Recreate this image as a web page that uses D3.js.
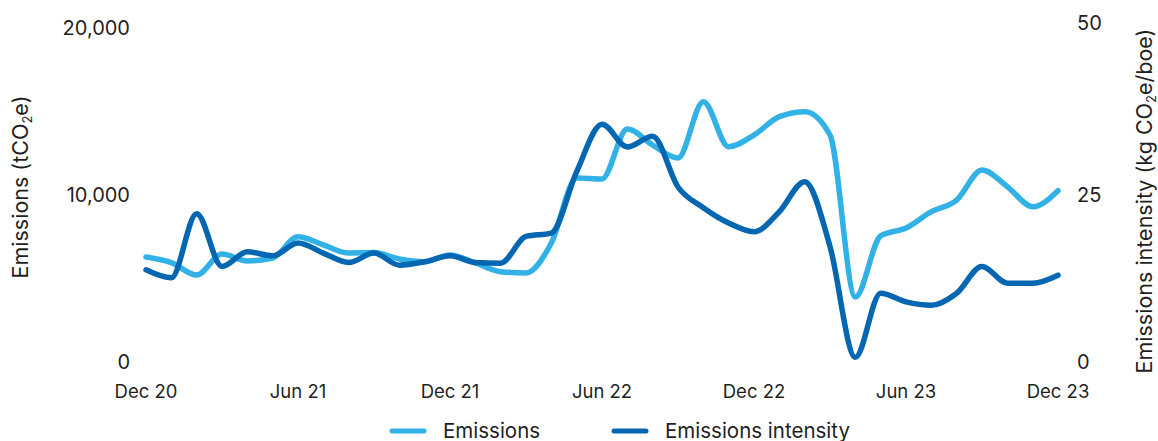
<!DOCTYPE html>
<html>
<head>
<meta charset="utf-8">
<script src="https://cdn.jsdelivr.net/npm/d3@7"></script>
<style>
  body { margin: 0; background: #fff; }
  svg text { font-family: Inter, "Noto Sans", sans-serif; fill: #1f1f1f; }
</style>
</head>
<body>
<div id="chart"></div>
<script>
// monthly data, Dec 20 -> Dec 23
var months = d3.range(37); // month index from Dec 2020
var tickIdx = [0, 6, 12, 18, 24, 30, 36];
var tickLabels = ["Dec 20", "Jun 21", "Dec 21", "Jun 22", "Dec 22", "Jun 23", "Dec 23"];

// tCO2e (left axis)
var emissions = [6290, 5950, 5210, 6470, 6050, 6230, 7500, 7010, 6530, 6550,
  6170, 6010, 6410, 5930, 5410, 5330, 7130, 11020, 10960, 13950,
  12990, 12220, 15590, 12890, 13590, 14690, 14990, 13590, 3890, 7550,
  8020, 9000, 9700, 11500, 10500, 9300, 10260];

// kg CO2e/boe (right axis)
var intensity = [13.8, 12.6, 22.2, 14.3, 16.5, 15.9, 17.8, 16.3, 14.9, 16.3,
  14.5, 15.0, 15.9, 14.9, 14.8, 18.8, 19.3, 28.5, 35.6, 32.2,
  33.8, 26.2, 23.1, 20.8, 19.5, 22.5, 27.0, 17.3, 0.7, 10.3,
  9.0, 8.5, 10.3, 14.3, 11.8, 11.8, 13.0];

var leftTicks = [0, 10000, 20000];
var rightTicks = [0, 25, 50];

var width = 1158, height = 441;
var lightBlue = "#31b1e6", darkBlue = "#0567b2";

var svg = d3.select("#chart").append("svg")
  .attr("width", width)
  .attr("height", height);

var x = d3.scaleLinear().domain([0, 36]).range([146, 1058]);
var yL = d3.scaleLinear().domain([0, 20000]).range([362, 28]);
var yR = d3.scaleLinear().domain([0, 50]).range([362, 28]);

// left axis labels
svg.selectAll(".ltick").data(leftTicks).enter()
  .append("text")
  .attr("x", 130)
  .attr("y", function(d) { return yL(d); })
  .attr("dy", "0.35em")
  .attr("text-anchor", "end")
  .style("font-size", "20px")
  .text(d3.format(","));

// right axis labels
svg.selectAll(".rtick").data(rightTicks).enter()
  .append("text")
  .attr("x", 1077)
  .attr("y", function(d) { return yR(d) - (d == 50 ? 5 : 0); })
  .attr("dy", "0.35em")
  .attr("text-anchor", "start")
  .style("font-size", "20px")
  .text(function(d) { return d; });

// x labels
svg.selectAll(".xtick").data(tickIdx).enter()
  .append("text")
  .attr("x", function(d) { return x(d); })
  .attr("y", 398)
  .attr("text-anchor", "middle")
  .style("font-size", "18.5px")
  .text(function(d, i) { return tickLabels[i]; });

// axis titles with subscript 2
function subTitle(t, parts) {
  t.append("tspan").text(parts[0]);
  t.append("tspan").text("2").style("font-size", "13px").attr("dy", 4);
  t.append("tspan").text(parts[1]).attr("dy", -4);
}
var lt = svg.append("text")
  .attr("transform", "translate(28,187) rotate(-90)")
  .attr("text-anchor", "middle")
  .style("font-size", "21.5px");
subTitle(lt, ["Emissions (tCO", "e)"]);

var rt = svg.append("text")
  .attr("transform", "translate(1152,201) rotate(-90)")
  .attr("text-anchor", "middle")
  .style("font-size", "21.5px");
subTitle(rt, ["Emissions intensity (kg CO", "e/boe)"]);

// lines
var lineL = d3.line()
  .x(function(d, i) { return x(months[i]); })
  .y(function(d) { return yL(d); })
  .curve(d3.curveMonotoneX);
var lineR = d3.line()
  .x(function(d, i) { return x(months[i]); })
  .y(function(d) { return yR(d); })
  .curve(d3.curveMonotoneX);

svg.append("path")
  .attr("d", lineL(emissions))
  .style("fill", "none")
  .style("stroke", lightBlue)
  .attr("stroke-width", 5.5)
  .attr("stroke-linecap", "round")
  .attr("stroke-linejoin", "round");

svg.append("path")
  .attr("d", lineR(intensity))
  .style("fill", "none")
  .style("stroke", darkBlue)
  .attr("stroke-width", 5.5)
  .attr("stroke-linecap", "round")
  .attr("stroke-linejoin", "round");

// legend
var legend = [
  {name: "Emissions", color: lightBlue, x: 392},
  {name: "Emissions intensity", color: darkBlue, x: 614}
];
var lg = svg.selectAll(".legend").data(legend).enter()
  .append("g")
  .attr("transform", function(d) { return "translate(" + d.x + ",431)"; });
lg.append("line")
  .attr("x1", 0).attr("x2", 32)
  .style("stroke", function(d) { return d.color; })
  .attr("stroke-width", 5)
  .attr("stroke-linecap", "round");
lg.append("text")
  .attr("x", 51)
  .attr("dy", "0.35em")
  .style("font-size", "20.5px")
  .text(function(d) { return d.name; });
</script>
</body>
</html>
